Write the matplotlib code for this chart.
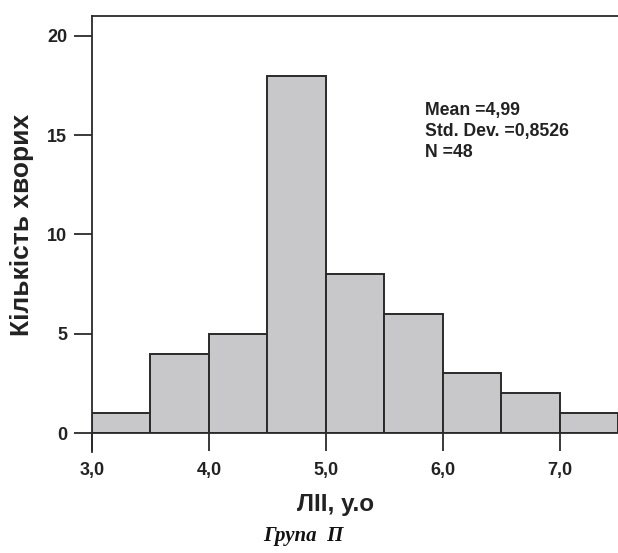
import matplotlib
matplotlib.use("Agg")
import matplotlib.pyplot as plt

bin_edges = [3.0, 3.5, 4.0, 4.5, 5.0, 5.5, 6.0, 6.5, 7.0, 7.5]
counts = [1, 4, 5, 18, 8, 6, 3, 2, 1]
x_ticks = [3.0, 4.0, 5.0, 6.0, 7.0]
x_tick_labels = ["3,0", "4,0", "5,0", "6,0", "7,0"]
y_ticks = [0, 5, 10, 15, 20]
stats_lines = ["Mean =4,99", "Std. Dev. =0,8526", "N =48"]
x_label = "ЛІІ, у.о"
y_label = "Кількість хворих"
caption = "Група  П"

plt.rcParams['font.family'] = ['Liberation Sans', 'DejaVu Sans']

fig = plt.figure(figsize=(6.18, 5.53), dpi=100)
ax = fig.add_axes([92/618, 120/553, 1 - 92/618, (433-16)/553])

widths = [bin_edges[i+1] - bin_edges[i] for i in range(len(counts))]
ax.bar(bin_edges[:-1], counts, width=widths, align='edge', color='#c8c8cb',
       edgecolor='#2a2a2a', linewidth=1.4, zorder=2)

ax.set_xlim(3.0, 7.5)
ax.set_ylim(0, 21.0)
ax.spines['right'].set_visible(False)
for s in ['left', 'top', 'bottom']:
    ax.spines[s].set_linewidth(1.3)
    ax.spines[s].set_color('#2a2a2a')

ax.set_xticks(x_ticks)
ax.set_xticklabels(x_tick_labels)
ax.set_yticks(y_ticks)
ax.tick_params(axis='both', direction='out', length=13, width=1.3, color='#2a2a2a',
               labelsize=13)
ax.tick_params(axis='x', pad=8)
ax.tick_params(axis='y', pad=5)
for lab in ax.get_xticklabels() + ax.get_yticklabels():
    lab.set_fontweight('bold')
    lab.set_color('#222222')

# extend left axis below zero
ax.plot([0, 0], [0, -19/417], transform=ax.transAxes, color='#2a2a2a',
        lw=1.3, clip_on=False, zorder=3)

ax.set_xlabel(x_label, fontsize=17.5, fontweight='bold', color='#222222')
ax.xaxis.set_label_coords((336 - 92) / 526, -(505 - 433) / 417)
ax.xaxis.label.set_va('center')
ax.set_ylabel(y_label, fontsize=19, fontweight='bold', color='#222222')
ax.yaxis.set_label_coords(-(92 - 22) / 526, 0.5)
ax.yaxis.label.set_va('center')

ax.text((425 - 92) / 526, (433 - 102) / 417, "\n".join(stats_lines), transform=ax.transAxes,
        fontsize=12.7, fontweight='bold', va='top', ha='left', linespacing=1.3,
        color='#222222')

fig.text(303 / 618, 1 - 536 / 553, caption, ha='center', va='center', fontsize=15,
         family=['Liberation Serif', 'DejaVu Serif'], fontweight='bold',
         fontstyle='italic', color='#111111')

fig.savefig("out.png", dpi=100)
